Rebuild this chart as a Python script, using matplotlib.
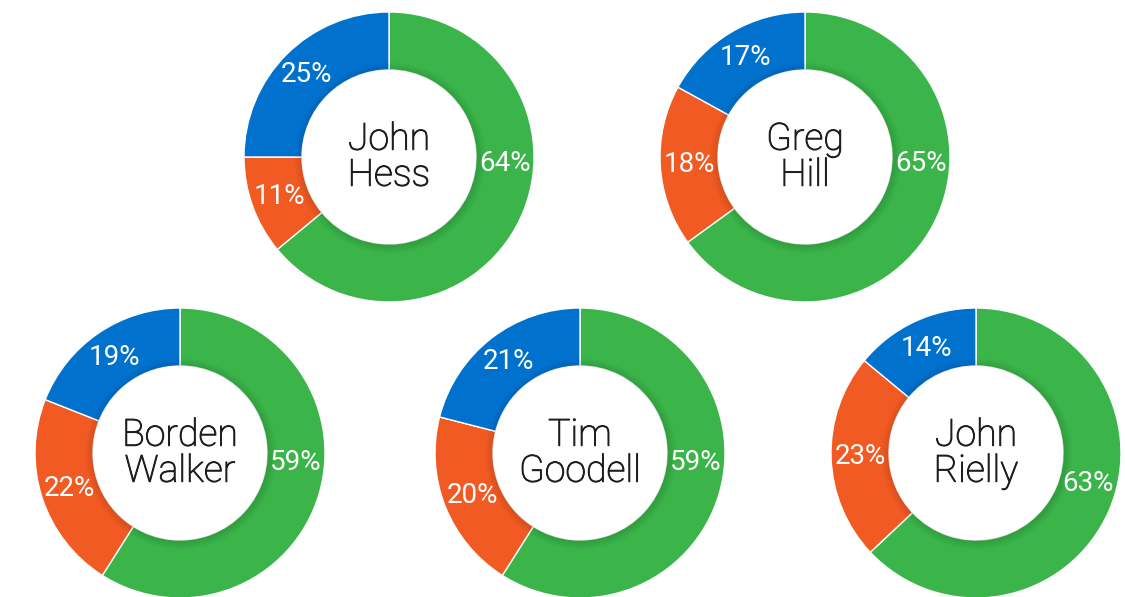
import numpy as np
import matplotlib.pyplot as plt
import matplotlib.patheffects as pe

# chart data
names = ['John\nHess', 'Greg\nHill', 'Borden\nWalker', 'Tim\nGoodell', 'John\nRielly']
green = [64, 65, 59, 59, 63]
orange = [11, 18, 22, 20, 23]
blue = [25, 17, 19, 21, 14]

colors = ['#3bb54a', '#f15a22', '#0072ce']

# layout (pixel units, y measured from top)
W, H = 1125, 597
centers = [(389, 157), (805, 157), (180, 453), (580, 453), (976, 453)]
R, HOLE = 145, 87
green_label_angle = [-3, -3, -4.5, -4.5, -15]

fig = plt.figure(figsize=(W / 100, H / 100), dpi=100)
ax = fig.add_axes([0, 0, 1, 1])

for i, name in enumerate(names):
    cx, cy = centers[i][0], H - centers[i][1]
    vals = [green[i], orange[i], blue[i]]
    ax.pie(vals, colors=colors, startangle=90, counterclock=False,
           center=(cx, cy), radius=R, frame=True,
           wedgeprops=dict(width=R - HOLE, edgecolor='white', linewidth=1))
    # faint shadow round the hole
    for k in range(6):
        ax.add_patch(plt.Circle((cx + 1, cy - 1), HOLE + 1 + k * 1.5, color='black',
                                alpha=0.018, lw=0, zorder=2))
    ax.add_patch(plt.Circle((cx, cy), HOLE, color='white', lw=0, zorder=3))

    # percentage labels
    total = sum(vals)
    start = 90.0
    for j, v in enumerate(vals):
        span = v / total * 360
        mid = start - span / 2
        if j == 0:
            mid = green_label_angle[i]
        a = np.radians(mid)
        ax.text(cx + 116 * np.cos(a), cy + 116 * np.sin(a), f'{v}%',
                ha='center', va='center', color='white', fontsize=20,
                family='Roboto', zorder=4)
        start -= span

    ax.text(cx, cy, name, ha='center', va='center', color='#1e1e1e',
            fontsize=27, family='Roboto', weight='light', linespacing=0.95,
            zorder=4,
            path_effects=[pe.withStroke(linewidth=0.7, foreground='#1e1e1e')])

ax.set_xlim(0, W)
ax.set_ylim(0, H)
ax.set_aspect('equal')
ax.axis('off')

plt.savefig('out.png', dpi=100)
